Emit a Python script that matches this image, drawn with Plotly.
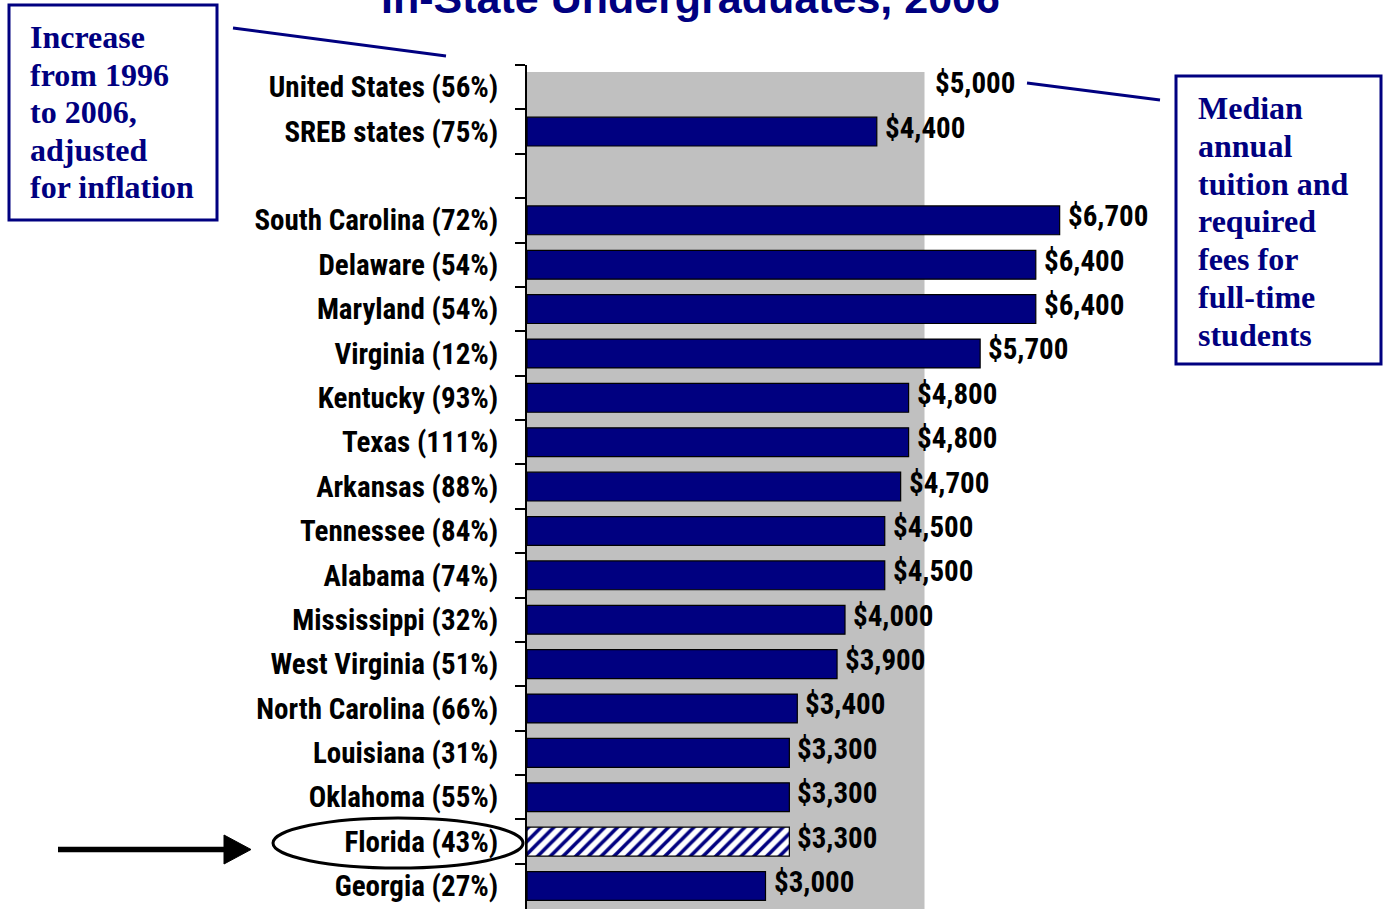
import plotly.graph_objects as go

# ---- data ----
regions = ["United States", "SREB states", "", "South Carolina", "Delaware", "Maryland",
           "Virginia", "Kentucky", "Texas", "Arkansas", "Tennessee", "Alabama",
           "Mississippi", "West Virginia", "North Carolina", "Louisiana", "Oklahoma",
           "Florida", "Georgia"]
pct_increase = [56, 75, None, 72, 54, 54, 12, 93, 111, 88, 84, 74, 32, 51, 66, 31, 55, 43, 27]
tuition = [5000, 4400, None, 6700, 6400, 6400, 5700, 4800, 4800, 4700, 4500, 4500,
           4000, 3900, 3400, 3300, 3300, 3300, 3000]
highlight = "Florida"
us_name = "United States"

title_text = "In-State Undergraduates, 2006"
left_note = ["Increase", "from 1996", "to 2006,", "adjusted", "for inflation"]
right_note = ["Median", "annual", "tuition and", "required", "fees for", "full-time", "students"]

labels = [f"{r} ({p}%)" if p is not None else " " for r, p in zip(regions, pct_increase)]
value_text = [f"${v:,}" if v is not None else "" for v in tuition]

NAVY = "#000080"
GRAY = "#c0c0c0"
W, H = 1388, 909
L, R, T, B = 527, 0, 65, 0
XMAX = (W - L - R) / 0.0795

def px(x):
    return (x - L) / (W - L - R)

def py(y):
    return (H - B - y) / (H - T - B)

LBL_FONT = dict(family="Roboto Condensed, Archivo Narrow, DejaVu Sans Condensed, sans-serif",
                size=29, color="black", weight="bold")

fig = go.Figure()

# regular state bars
reg_x = [v if (r not in (highlight, us_name)) else None for r, v in zip(regions, tuition)]
fig.add_trace(go.Bar(
    y=labels, x=reg_x, orientation="h", width=0.65,
    marker=dict(color=NAVY, line=dict(color="black", width=1.2)),
    hoverinfo="x+y", showlegend=False))

# highlighted (hatched) bar
hl_x = [v if r == highlight else None for r, v in zip(regions, tuition)]
fig.add_trace(go.Bar(
    y=labels, x=hl_x, orientation="h", width=0.65,
    marker=dict(color="white", line=dict(color="black", width=1.2),
                pattern=dict(shape="/", fgcolor=NAVY, bgcolor="white", size=9, solidity=0.4)),
    showlegend=False))

# gray US reference band
us_val = tuition[regions.index(us_name)]
fig.add_shape(type="rect", xref="x", yref="paper", x0=0, x1=us_val, y0=0, y1=py(72),
              fillcolor=GRAY, line=dict(width=0), layer="below")

# value labels
for lab, v, t in zip(labels, tuition, value_text):
    if v is None:
        continue
    fig.add_annotation(x=v, y=lab, xref="x", yref="y", text=t, showarrow=False,
                       xanchor="left", yanchor="middle", xshift=6 if lab != labels[0] else 8,
                       yshift=4, font=LBL_FONT)

# title (cut off at the top of the frame)
fig.add_annotation(x=px(690), y=py(12), xref="paper", yref="paper",
                   text=title_text, showarrow=False,
                   xanchor="center", yanchor="bottom", yshift=-12,
                   font=dict(family="Liberation Sans, Arial, sans-serif", size=43,
                             color=NAVY, weight="bold"))

BOX_FONT = dict(family="Liberation Serif, Times New Roman, serif", size=32, color=NAVY,
                weight="bold")

# left box
fig.add_shape(type="rect", xref="paper", yref="paper", x0=px(9), x1=px(217), y0=py(220), y1=py(5),
              line=dict(color=NAVY, width=3), fillcolor="white")
for i, line in enumerate(left_note):
    fig.add_annotation(x=px(28), y=py(37 + 37.6 * i), xref="paper", yref="paper",
                       text=line, showarrow=False, xanchor="left", yanchor="middle",
                       align="left", font=BOX_FONT)
fig.add_shape(type="line", xref="paper", yref="paper", x0=px(233), y0=py(28), x1=px(446), y1=py(56),
              line=dict(color=NAVY, width=3))

# right box
fig.add_shape(type="rect", xref="paper", yref="paper", x0=px(1176), x1=px(1381), y0=py(364), y1=py(76),
              line=dict(color=NAVY, width=3), fillcolor="white")
for i, line in enumerate(right_note):
    fig.add_annotation(x=px(1196), y=py(108 + 37.8 * i), xref="paper", yref="paper",
                       text=line, showarrow=False, xanchor="left", yanchor="middle",
                       align="left", font=BOX_FONT)
fig.add_shape(type="line", xref="paper", yref="paper", x0=px(1027), y0=py(83), x1=px(1160), y1=py(100),
              line=dict(color=NAVY, width=3))

# highlight ellipse + arrow
fig.add_shape(type="circle", xref="paper", yref="paper", x0=px(273), x1=px(523), y0=py(868), y1=py(818),
              line=dict(color="black", width=3))
fig.add_shape(type="line", xref="paper", yref="paper", x0=px(58), x1=px(228), y0=py(849.5), y1=py(849.5),
              line=dict(color="black", width=5.5))
fig.add_shape(type="path", xref="paper", yref="paper",
              path=f"M {px(224)},{py(835)} L {px(251)},{py(849.5)} L {px(224)},{py(864)} Z",
              fillcolor="black", line=dict(color="black", width=1))

fig.update_layout(
    width=W, height=H, barmode="overlay", template="none",
    paper_bgcolor="white", plot_bgcolor="white",
    margin=dict(l=L, r=R, t=T, b=B, pad=0, autoexpand=False),
    font=LBL_FONT,
    xaxis=dict(range=[0, XMAX], showgrid=False, zeroline=False, showticklabels=False,
               ticks="", showline=False, fixedrange=True),
    yaxis=dict(type="category", categoryorder="array", categoryarray=labels,
               autorange="reversed", showgrid=False, zeroline=False,
               showline=True, linecolor="black", linewidth=2,
               ticks="outside", tickson="boundaries", ticklen=10, tickwidth=1.5,
               tickcolor="black", ticklabelstandoff=21, tickfont=LBL_FONT),
)

fig.write_html("out.html", config={"displayModeBar": False},
               post_script="document.body.style.margin='0px';document.body.style.overflow='hidden';")
